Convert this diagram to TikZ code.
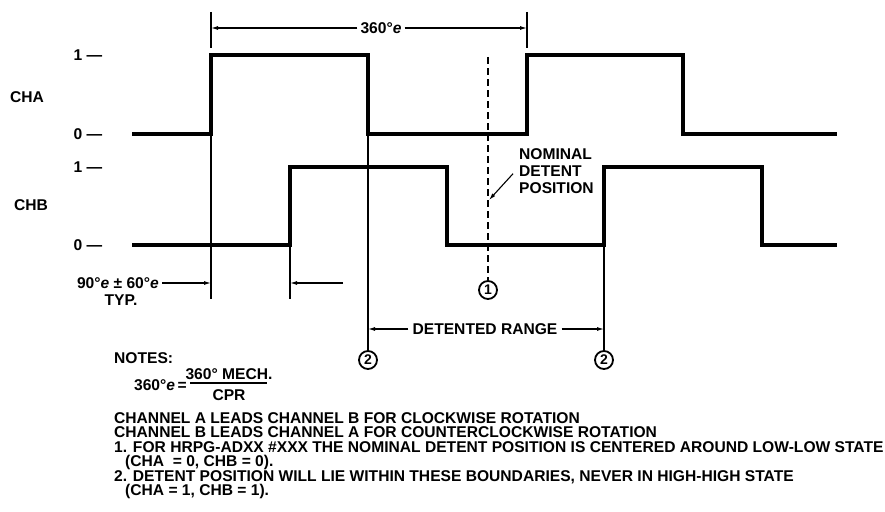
\documentclass[tikz,border=0pt]{standalone}
\usepackage{fontspec}
\setmainfont{Liberation Sans}
\usetikzlibrary{positioning, arrows.meta}

\begin{document}
\begin{tikzpicture}[
        x=1pt, y=-1pt,
        senal/.style={
            line width=3.2pt,
            line join=miter
        },
        guia/.style={
            line width=1.1pt
        },
        punteada/.style={
            line width=1.1pt,
            dash pattern=on 7pt off 4pt
        },
        flecha/.style={
            -{Latex[length=7pt,width=4pt]},
            line width=1.1pt
        },
        texto/.style={
            font=\fontsize{15.6}{15.6}\selectfont\bfseries,
            inner sep=0pt,
            text height=11pt,
            text depth=0pt
        },
        bloque/.style={
            font=\fontsize{15.6}{14.4}\selectfont\bfseries,
            inner sep=0pt,
            align=left,
            anchor=north west
        },
        circulo/.style={
            circle,
            draw,
            line width=1.8pt,
            inner sep=0pt,
            minimum size=18pt,
            font=\fontsize{14}{14}\selectfont\bfseries
        }
    ]

        \useasboundingbox (0,0) rectangle (885,511);

        % canales
        \node[texto] (cha) at (27,97) {CHA};
        \node[texto] (chb) at (31,205) {CHB};
        \node[texto] (ha) at (88,55) {1 —};
        \node[texto] (la) at (88,134) {0 —};
        \node[texto] (hb) at (88,167) {1 —};
        \node[texto] (lb) at (88,245) {0 —};

        \draw[senal] (132,134) -- (211,134) -- (211,55) -- (368,55) -- (368,134)
            -- (527,134) -- (527,55) -- (683,55) -- (683,134) -- (837,134);
        \draw[senal] (132,245) -- (290,245) -- (290,167) -- (447,167) -- (447,245)
            -- (604,245) -- (604,167) -- (762,167) -- (762,245) -- (837,245);

        % cota de 360
        \coordinate (p1) at (211,28);
        \coordinate (p2) at (527,28);
        \draw[guia] (211,12) -- (211,48);
        \draw[guia] (527,12) -- (527,48);
        \node[texto] (periodo) at (381,28) {360°\textit{e}};
        \draw[flecha, shorten <=3pt] (periodo.west) -- (p1);
        \draw[flecha, shorten <=3pt] (periodo.east) -- (p2);

        % cota de fase
        \draw[guia] (211,134) -- (211,299);
        \draw[guia] (290,245) -- (290,299);
        \coordinate (f1) at (211,283);
        \coordinate (f2) at (290,283);
        \coordinate (f3) at (343,283);
        \node[texto, anchor=east] (fase) at (159,283) {90°\textit{e} ± 60°\textit{e}};
        \node[texto] (typ) at (121,300) {TYP.};
        \draw[flecha, shorten <=3pt] (fase.east) -- (f1);
        \draw[flecha] (f3) -- (f2);

        % rango del retén
        \node[circulo] (dos1) at (368,360) {2};
        \node[circulo] (dos2) at (604,360) {2};
        \node[circulo] (uno) at (488,290) {1};
        \draw[guia] (368,134) -- (dos1.north);
        \draw[guia] (604,245) -- (dos2.north);
        \draw[punteada] (488,57) -- (uno.north);
        \coordinate (r1) at (368,329);
        \coordinate (r2) at (604,329);
        \node[texto] (rango) at (485,329) {DETENTED RANGE};
        \draw[flecha, shorten <=4pt] (rango.west) -- (r1);
        \draw[flecha, shorten <=4pt] (rango.east) -- (r2);

        \node[bloque, font=\fontsize{15.6}{17}\selectfont\bfseries] (nominal) at (519,148) {NOMINAL\\DETENT\\POSITION};
        \coordinate (pdet) at (489,200);
        \draw[flecha] ([shift={(-6pt,-3pt)}]nominal.west) -- (pdet);

        % notas
        \node[texto, anchor=west] (notas) at (114,358) {NOTES:};
        \node[texto, anchor=east] (igual) at (187,385) {360°\textit{e}\,=};
        \node[texto] (num) at (229,374) {360° MECH.};
        \node[texto] (den) at (229,395) {CPR};
        \draw[guia] (190,383) -- (267,383);
        \node[bloque] (lista) at (114,412.5) {CHANNEL A LEADS CHANNEL B FOR CLOCKWISE ROTATION\\
            CHANNEL B LEADS CHANNEL A FOR COUNTERCLOCKWISE ROTATION\\
            1. FOR HRPG-ADXX \#XXX THE NOMINAL DETENT POSITION IS CENTERED AROUND LOW-LOW STATE\\
            \hspace*{11pt}(CHA \ = 0, CHB = 0).\\
            2. DETENT POSITION WILL LIE WITHIN THESE BOUNDARIES, NEVER IN HIGH-HIGH STATE\\
            \hspace*{11pt}(CHA = 1, CHB = 1).};

    \end{tikzpicture}
\end{document}
